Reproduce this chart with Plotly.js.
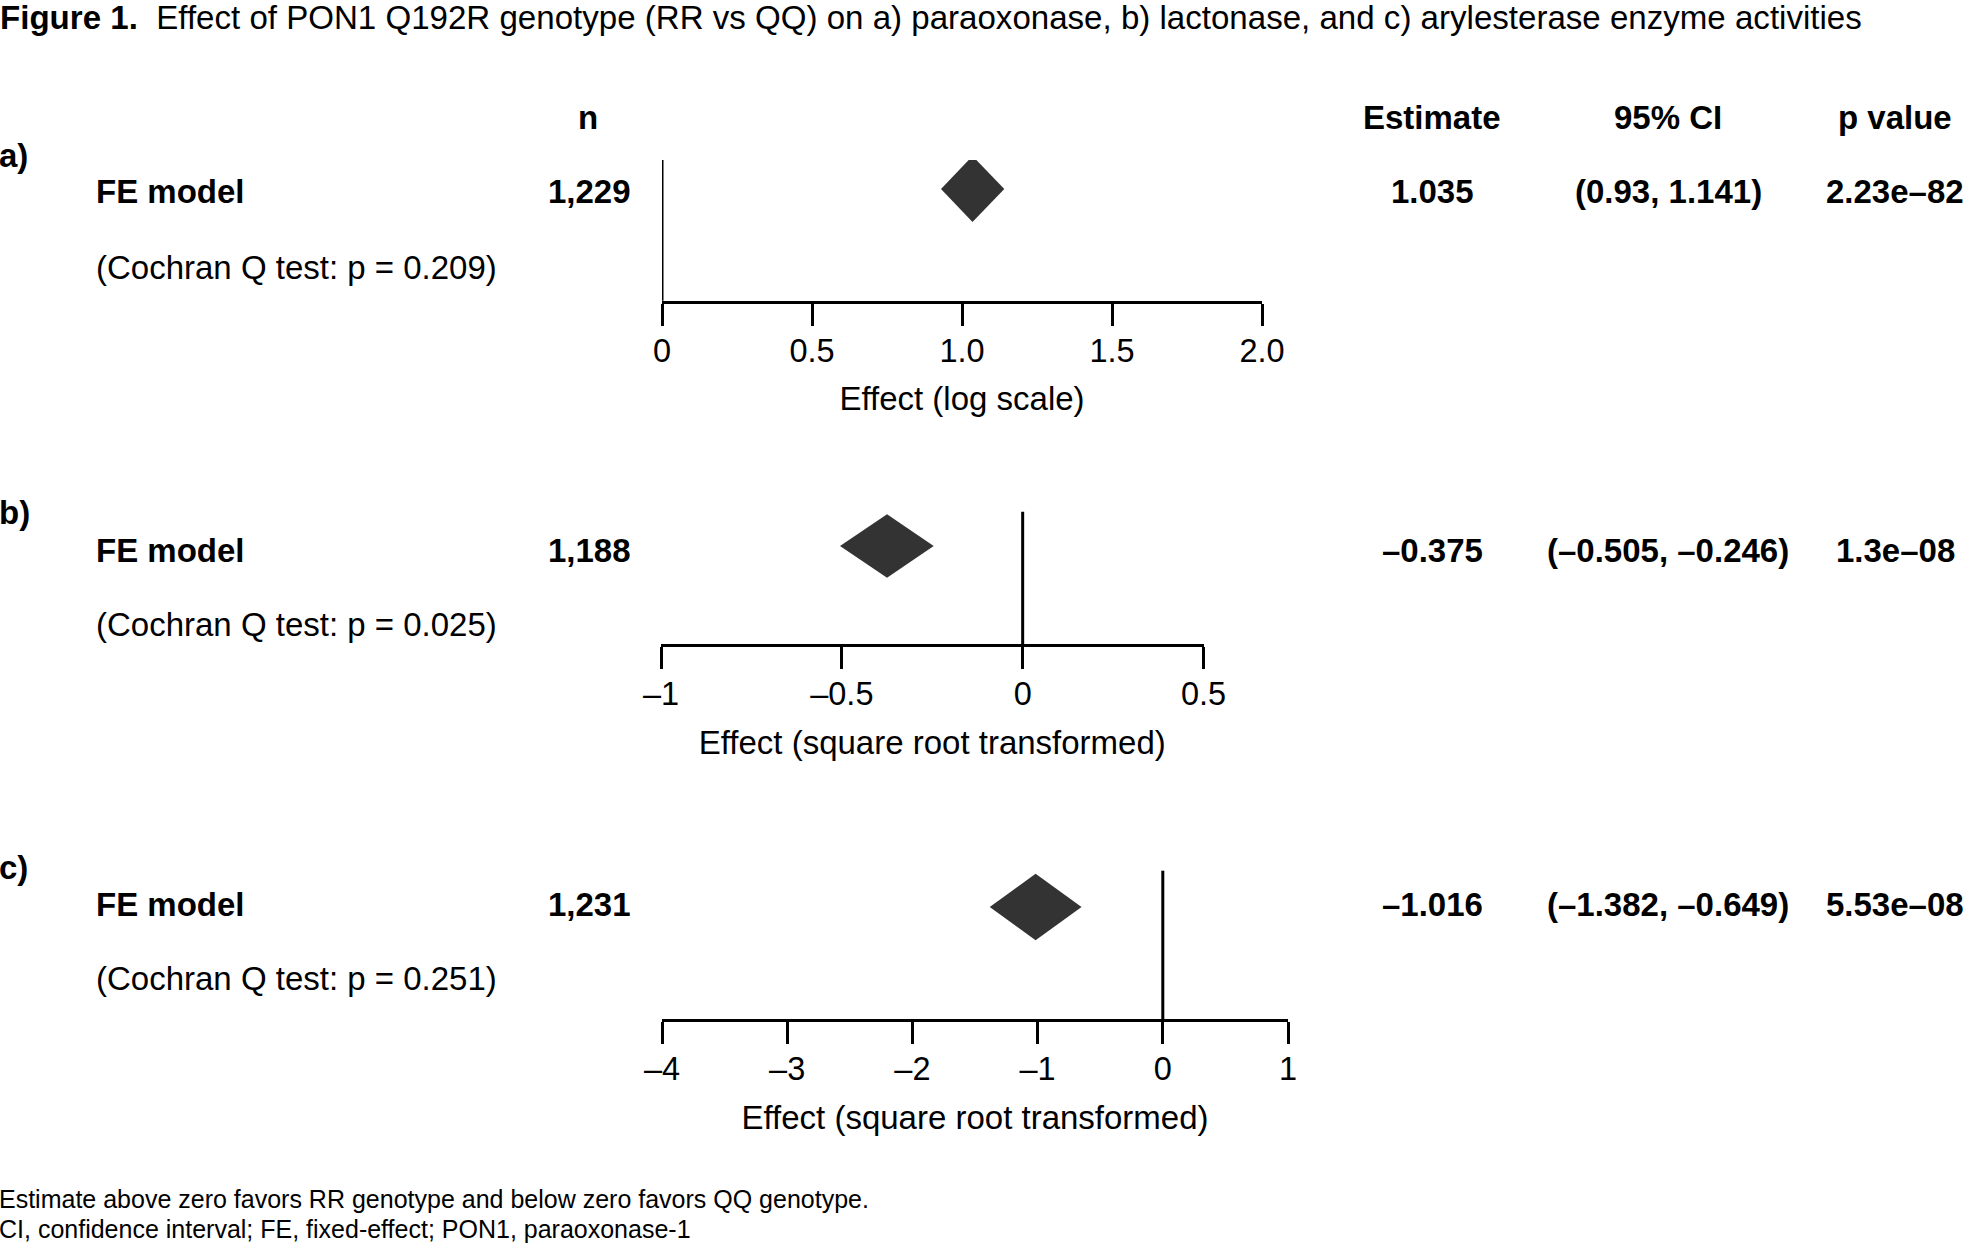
<!DOCTYPE html>
<html><head><meta charset="utf-8">
<script src="https://cdn.plot.ly/plotly-3.0.1.min.js"></script>
<style>html,body{margin:0;padding:0;background:#fff}</style>
</head><body><div id="chart" style="width:1965px;height:1244px"></div>
<script>
// ---------- data ----------
const panelLabels = ["a)", "b)", "c)"];
const modelLabels = ["FE model", "FE model", "FE model"];
const cochranP = ["0.209", "0.025", "0.251"];
const nValues = ["1,229", "1,188", "1,231"];
const estimates = [1.035, -0.375, -1.016];
const ciLower = [0.93, -0.505, -1.382];
const ciUpper = [1.141, -0.246, -0.649];
const estimateText = ["1.035", "\u20130.375", "\u20131.016"];
const ciText = ["(0.93, 1.141)", "(\u20130.505, \u20130.246)", "(\u20131.382, \u20130.649)"];
const pValueText = ["2.23e\u201382", "1.3e\u201308", "5.53e\u201308"];
const axisTitles = ["Effect (log scale)", "Effect (square root transformed)", "Effect (square root transformed)"];
const tickVals = [[0, 0.5, 1, 1.5, 2], [-1, -0.5, 0, 0.5], [-4, -3, -2, -1, 0, 1]];
const tickTexts = [["0", "0.5", "1.0", "1.5", "2.0"], ["\u20131", "\u20130.5", "0", "0.5"], ["\u20134", "\u20133", "\u20132", "\u20131", "0", "1"]];
const refValues = [0, 0, 0];
const headers = ["n", "Estimate", "95% CI", "p value"];
const figureTitle = "Figure 1.";
const figureCaption = "Effect of PON1 Q192R genotype (RR vs QQ) on a) paraoxonase, b) lactonase, and c) arylesterase enzyme activities";
const footnotes = ["Estimate above zero favors RR genotype and below zero favors QQ genotype.", "CI, confidence interval; FE, fixed-effect; PON1, paraoxonase-1"];

// ---------- layout (pixel positions) ----------
const W = 1965, H = 1244;
const FONT = "'Liberation Sans', Arial, Helvetica, sans-serif";
const FS = 33;
const P = [
  {xl: 662, xr: 1262, axisY: 300.7, topY: 160, dc: 189, dh: 33, rowY: 191.7, labY: 155.4, cochY: 267, range: [0, 2]},
  {xl: 661, xr: 1203.5, axisY: 644, topY: 511.7, dc: 546, dh: 31.7, rowY: 550.2, labY: 512.6, cochY: 624, range: [-1, 0.5]},
  {xl: 662, xr: 1288, axisY: 1019, topY: 870.7, dc: 907, dh: 33.3, rowY: 904.8, labY: 867.2, cochY: 978.7, range: [-4, 1]}
];
const COL = {label: -1, model: 96, nRight: 631, est: 1432, ci: 1668, p: 1895};
const HEADER_Y = 117.8;
const px = x => x / W;
const py = y => 1 - y / H;

const traces = [];
const annotations = [];
const shapes = [];
const layout = {
  width: W, height: H,
  margin: {l: 0, r: 0, t: 0, b: 0},
  paper_bgcolor: "#fff", plot_bgcolor: "rgba(0,0,0,0)",
  showlegend: false, hovermode: false,
  font: {family: FONT, color: "#000", size: FS},
  title: {
    text: "<b>" + figureTitle + "</b>\u00a0\u00a0" + figureCaption,
    x: 0, xanchor: "left", xref: "container",
    y: 1 - 17.5 / H, yanchor: "middle", yref: "container",
    font: {family: FONT, size: 33.1, color: "#000"}
  }
};

function ann(text, x, y, xanchor, size) {
  annotations.push({
    text: text, x: px(x), y: py(y), xref: "paper", yref: "paper",
    xanchor: xanchor, yanchor: "middle", showarrow: false, borderpad: 0, borderwidth: 0,
    font: {family: FONT, size: size || FS, color: "#000"}
  });
}

P.forEach((p, i) => {
  const sfx = i === 0 ? "" : String(i + 1);
  const span = p.axisY - p.topY;
  const yc = (p.axisY - p.dc) / span;
  const hh = p.dh / span;
  layout["xaxis" + sfx] = {
    domain: [px(p.xl), px(p.xr)], range: p.range, anchor: "y" + sfx,
    showline: true, linecolor: "#000", linewidth: 3,
    ticks: "outside", ticklen: 22, tickwidth: 3, tickcolor: "#000",
    tickmode: "array", tickvals: tickVals[i], ticktext: tickTexts[i],
    tickfont: {family: FONT, size: 32.5, color: "#000"}, ticklabelstandoff: -3,
    showgrid: false, zeroline: false, fixedrange: true,
    title: {text: axisTitles[i], standoff: 20, font: {family: FONT, size: FS, color: "#000"}}
  };
  layout["yaxis" + sfx] = {
    domain: [py(p.axisY), py(p.topY)], range: [0, 1], anchor: "x" + sfx,
    visible: false, showgrid: false, zeroline: false, fixedrange: true
  };
  // reference line
  shapes.push({type: "line", xref: "x" + sfx, yref: "y" + sfx + " domain",
    x0: refValues[i], x1: refValues[i], y0: 0, y1: 1,
    line: {color: "#000", width: 3}});
  // diamond (summary estimate with CI)
  traces.push({
    type: "scatter", mode: "lines", xaxis: "x" + sfx, yaxis: "y" + sfx,
    x: [ciLower[i], estimates[i], ciUpper[i], estimates[i], ciLower[i]],
    y: [yc, yc + hh, yc, yc - hh, yc],
    fill: "toself", fillcolor: "#333333", line: {width: 0, color: "#333333"},
    hoverinfo: "skip"
  });
  // row text
  ann("<b>" + panelLabels[i] + "</b>", COL.label, p.labY, "left");
  ann("<b>" + modelLabels[i] + "</b>", COL.model, p.rowY, "left");
  ann("(Cochran Q test: p = " + cochranP[i] + ")", COL.model, p.cochY, "left");
  ann("<b>" + nValues[i] + "</b>", COL.nRight, p.rowY, "right");
  ann("<b>" + estimateText[i] + "</b>", COL.est, p.rowY, "center");
  ann("<b>" + ciText[i] + "</b>", COL.ci, p.rowY, "center");
  ann("<b>" + pValueText[i] + "</b>", COL.p, p.rowY, "center");
});

// headers
ann("<b>" + headers[0] + "</b>", 587.7, HEADER_Y, "center");
ann("<b>" + headers[1] + "</b>", COL.est, HEADER_Y, "center");
ann("<b>" + headers[2] + "</b>", COL.ci, HEADER_Y, "center");
ann("<b>" + headers[3] + "</b>", COL.p, HEADER_Y, "center");

// footnotes
ann(footnotes[0], -1, 1199, "left", 25);
ann(footnotes[1], -1, 1228.5, "left", 25);

layout.annotations = annotations;
layout.shapes = shapes;

Plotly.newPlot("chart", traces, layout, {staticPlot: true, displayModeBar: false});
</script>
</body></html>
